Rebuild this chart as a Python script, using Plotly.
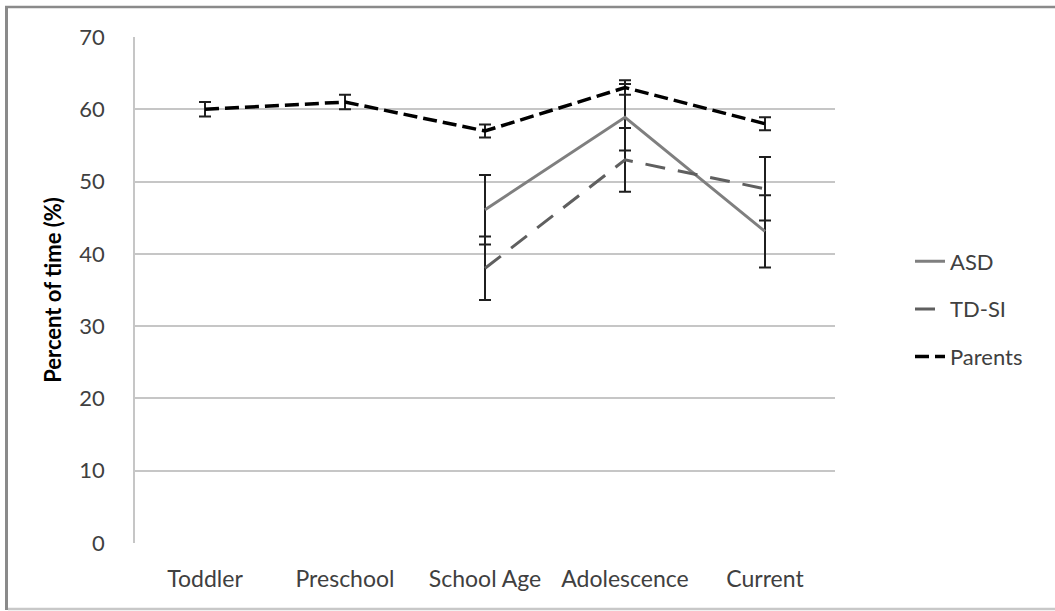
import plotly.graph_objects as go

categories = ["Toddler", "Preschool", "School Age", "Adolescence", "Current"]
asd = [None, None, 46.1, 58.9, 43.1]
asd_err = [None, None, 4.8, 4.6, 5.0]
tdsi = [None, None, 38.0, 53.0, 49.0]
tdsi_err = [None, None, 4.4, 4.4, 4.4]
parents = [60.0, 61.0, 57.0, 63.0, 58.0]
parents_err = [1.0, 1.0, 0.9, 1.0, 0.9]
y_ticks = [0, 10, 20, 30, 40, 50, 60, 70]

FONT = "Lato, Carlito, Calibri, sans-serif"
ERR = "#1f1f1f"
TXT = "#404040"

fig = go.Figure()
fig.add_trace(go.Scatter(
    x=categories, y=asd, name="ASD", mode="lines", legendgroup="a",
    line=dict(color="#7f7f7f", width=3),
    error_y=dict(type="data", array=asd_err, color=ERR, thickness=2, width=6),
))
fig.add_trace(go.Scatter(
    x=categories, y=tdsi, name="TD-SI", mode="lines", legendgroup="b",
    line=dict(color="#5f5f5f", width=3, dash="20px,13px"),
    error_y=dict(type="data", array=tdsi_err, color=ERR, thickness=2, width=6),
))
fig.add_trace(go.Scatter(
    x=categories, y=parents, name="Parents", mode="lines", legendgroup="c",
    line=dict(color="#000000", width=3.5, dash="14px,6px"),
    error_y=dict(type="data", array=parents_err, color=ERR, thickness=2, width=6),
))

W, H = 1055, 611
L, R, T, B = 135, 220, 37, 68
pw, ph = W - L - R, H - T - B


def px(x):
    return (x - L) / pw


def py(y):
    return (H - B - y) / ph


fig.update_layout(
    width=W, height=H,
    margin=dict(l=L, r=R, t=T, b=B),
    paper_bgcolor="white", plot_bgcolor="white",
    font=dict(family=FONT, size=23, color=TXT),
    showlegend=True,
    legend=dict(x=px(910), xanchor="left", y=py(309), yanchor="middle",
                traceorder="grouped", tracegroupgap=16,
                font=dict(size=22, color=TXT), bgcolor="rgba(0,0,0,0)"),
    xaxis=dict(type="category", categoryorder="array", categoryarray=categories,
               range=[-0.5, 4.5],
               showgrid=False, showline=False, zeroline=False, ticks="",
               ticklabelstandoff=20, tickfont=dict(size=23, color=TXT)),
    yaxis=dict(range=[0, 70], tickvals=y_ticks, showgrid=True, gridcolor="#c6c6c6",
               gridwidth=1.5, showline=True, linecolor="#c6c6c6", linewidth=1.5,
               zeroline=False, ticks="", ticklabelstandoff=24,
               tickfont=dict(size=22, color=TXT),
               title=dict(text="<b>Percent of time (%)</b>", standoff=12,
                          font=dict(size=22, color="#000000"))),
    shapes=[
        dict(type="line", xref="paper", yref="paper", x0=px(6.5), x1=px(6.5), y0=py(6), y1=py(610),
             line=dict(color="#8a8a8a", width=3)),
        dict(type="line", xref="paper", yref="paper", x0=px(5), x1=px(1056), y0=py(7), y1=py(7),
             line=dict(color="#8a8a8a", width=2.5)),
        dict(type="line", xref="paper", yref="paper", x0=px(8), x1=px(1056), y0=py(609), y1=py(609),
             line=dict(color="#c8c8c8", width=2.5)),
    ],
)

fig.write_html("out.html", config={"displayModeBar": False},
               post_script="document.body.style.margin='0';document.body.style.overflow='hidden';")
